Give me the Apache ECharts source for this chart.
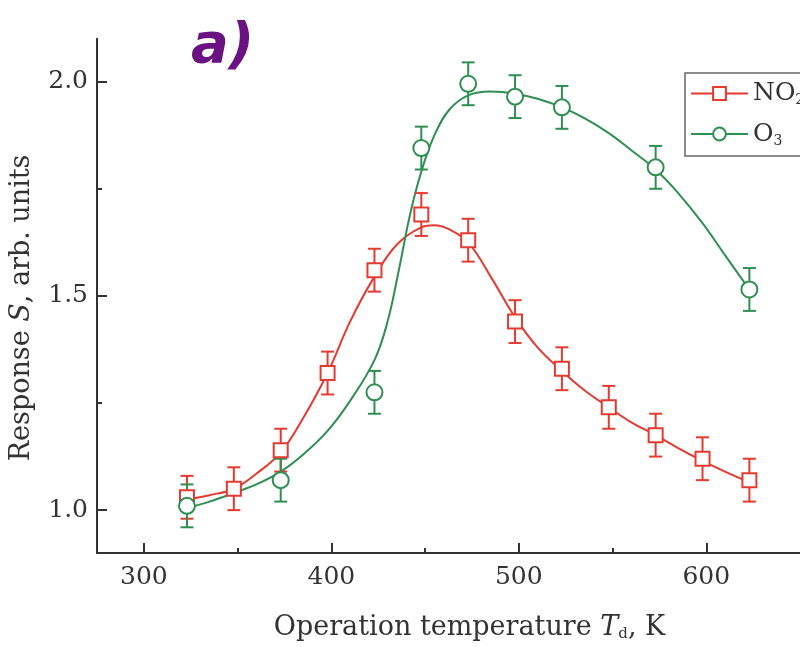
<!DOCTYPE html>
<html>
<head>
<meta charset="utf-8">
<script src="https://cdn.jsdelivr.net/npm/echarts@6/dist/echarts.min.js"></script>
<style>
html, body { margin: 0; padding: 0; background: #fff; }
#chart { width: 800px; height: 647px; }
</style>
</head>
<body>
<div id="chart"></div>
<script>
'use strict';
// measured points
const no2Temps = [323, 348, 373, 398, 423, 448, 473, 498, 523, 548, 573, 598, 623];
const no2Resp = [1.03, 1.05, 1.14, 1.32, 1.56, 1.69, 1.63, 1.44, 1.33, 1.24, 1.175, 1.12, 1.07];
const no2Err = [0.05, 0.05, 0.05, 0.05, 0.05, 0.05, 0.05, 0.05, 0.05, 0.05, 0.05, 0.05, 0.05];

const o3Temps = [323, 373, 423, 448, 473, 498, 523, 573, 623];
const o3Resp = [1.01, 1.07, 1.275, 1.845, 1.995, 1.965, 1.94, 1.80, 1.515];
const o3Err = [0.05, 0.05, 0.05, 0.05, 0.05, 0.05, 0.05, 0.05, 0.05];

// fitted curves
const no2FitTemps = [323, 335, 348, 360, 373, 385, 398, 410, 423, 435, 448, 455, 463, 473, 485, 498, 510, 523, 535, 548, 560, 573, 585, 598, 610, 623];
const no2Fit = [1.025, 1.035, 1.05, 1.085, 1.135, 1.215, 1.32, 1.44, 1.545, 1.62, 1.66, 1.665, 1.655, 1.625, 1.545, 1.45, 1.38, 1.325, 1.28, 1.24, 1.205, 1.175, 1.145, 1.115, 1.09, 1.065];
const o3FitTemps = [323, 335, 348, 360, 373, 385, 398, 410, 423, 430, 436, 442, 448, 455, 463, 473, 485, 498, 510, 523, 535, 548, 560, 573, 585, 598, 610, 623];
const o3Fit = [1.005, 1.02, 1.04, 1.06, 1.09, 1.13, 1.185, 1.255, 1.35, 1.44, 1.56, 1.69, 1.79, 1.875, 1.935, 1.968, 1.977, 1.972, 1.96, 1.94, 1.915, 1.88, 1.84, 1.795, 1.74, 1.67, 1.595, 1.515];

const xTickLabels = [300, 400, 500, 600];
const yTickLabels = [1.0, 1.5, 2.0];

const RED = '#e53a30';
const GREEN = '#2f8f52';
const FONT = 'DejaVu Serif';
const INK = '#333';

function pairs(xs, ys) {
    return xs.map((x, i) => [x, ys[i]]);
}
function bars(xs, ys, es) {
    return xs.map((x, i) => [x, ys[i] - es[i], ys[i] + es[i]]);
}
function errorBar(color) {
    return function (params, api) {
        const x = api.value(0);
        const lo = api.coord([x, api.value(1)]);
        const hi = api.coord([x, api.value(2)]);
        const w = 6.5;
        const st = { stroke: color, lineWidth: 2 };
        return {
            type: 'group',
            children: [
                { type: 'line', shape: { x1: lo[0], y1: lo[1], x2: hi[0], y2: hi[1] }, style: st },
                { type: 'line', shape: { x1: lo[0] - w, y1: lo[1], x2: lo[0] + w, y2: lo[1] }, style: st },
                { type: 'line', shape: { x1: hi[0] - w, y1: hi[1], x2: hi[0] + w, y2: hi[1] }, style: st },
            ],
        };
    };
}

const chart = echarts.init(document.getElementById('chart'));
const option = {
    animation: false,
    title: {
        text: 'a)',
        left: 186,
        top: 14,
        textStyle: { color: '#6b1283', fontSize: 56, fontWeight: 'bold', fontStyle: 'italic', fontFamily: 'DejaVu Sans' },
    },
    legend: {
        data: ['NO2', 'O3'],
        orient: 'vertical',
        left: 685,
        top: 73,
        padding: [8, 30, 8, 5],
        itemWidth: 57,
        itemHeight: 16,
        itemGap: 14,
        borderColor: '#666',
        borderWidth: 1.5,
        borderRadius: 0,
        formatter: (name) => (name === 'NO2' ? 'NO{s|2}' : 'O{s|3}'),
        textStyle: {
            fontFamily: FONT,
            fontSize: 25,
            color: INK,
            rich: {
                s: { fontFamily: FONT, fontSize: 14, color: INK, verticalAlign: 'bottom', padding: [14, 0, 0, 0] },
            },
        },
    },
    grid: { left: 97, right: 0, top: 38.8, bottom: 94 },
    xAxis: {
        type: 'value',
        min: 275,
        max: 650,
        splitNumber: 4,
        name: 'Operation temperature {i|T}{s|d}, K',
        nameLocation: 'middle',
        nameGap: 60,
        nameTextStyle: {
            fontFamily: FONT,
            fontSize: 27,
            color: INK,
            padding: [0, 0, 0, 42],
            rich: {
                i: { fontFamily: FONT, fontSize: 27, fontStyle: 'italic', color: INK },
                s: { fontFamily: FONT, fontSize: 15, color: INK, verticalAlign: 'bottom', padding: [14, 0, 0, 0] },
            },
        },
        axisLine: { lineStyle: { color: INK, width: 2 } },
        axisTick: { show: true, inside: true, length: 10, customValues: xTickLabels, lineStyle: { color: INK, width: 2 } },
        minorTick: { show: true, splitNumber: 2, length: 5, lineStyle: { color: INK, width: 2 } },
        axisLabel: { customValues: xTickLabels, margin: 12, fontFamily: FONT, fontSize: 25, color: INK },
        splitLine: { show: false },
    },
    yAxis: {
        type: 'value',
        min: 0.9,
        max: 2.1,
        splitNumber: 3,
        name: 'Response {i|S}, arb. units',
        nameLocation: 'middle',
        nameGap: 62,
        nameTextStyle: {
            fontFamily: FONT,
            fontSize: 27,
            color: INK,
            padding: [0, 24, 0, 0],
            rich: {
                i: { fontFamily: FONT, fontSize: 27, fontStyle: 'italic', color: INK },
            },
        },
        axisLine: { show: true, lineStyle: { color: INK, width: 2 } },
        axisTick: { show: true, inside: true, length: 10, customValues: yTickLabels, lineStyle: { color: INK, width: 2 } },
        minorTick: { show: true, splitNumber: 2, length: 5, lineStyle: { color: INK, width: 2 } },
        axisLabel: {
            customValues: yTickLabels,
            margin: 9,
            fontFamily: FONT,
            fontSize: 25,
            color: INK,
            formatter: (v) => v.toFixed(1),
        },
        splitLine: { show: false },
    },
    series: [
        {
            name: 'NO2',
            type: 'line',
            data: pairs(no2FitTemps, no2Fit),
            smooth: 0.4,
            showSymbol: false,
            symbol: 'emptyRect',
            lineStyle: { color: RED, width: 2 },
            itemStyle: { color: RED },
            z: 2,
        },
        {
            name: 'O3',
            type: 'line',
            data: pairs(o3FitTemps, o3Fit),
            smooth: 0.4,
            showSymbol: false,
            symbol: 'emptyCircle',
            lineStyle: { color: GREEN, width: 2 },
            itemStyle: { color: GREEN },
            z: 2,
        },
        {
            type: 'custom',
            renderItem: errorBar(RED),
            data: bars(no2Temps, no2Resp, no2Err),
            encode: { x: 0, y: [1, 2] },
            z: 3,
        },
        {
            type: 'custom',
            renderItem: errorBar(GREEN),
            data: bars(o3Temps, o3Resp, o3Err),
            encode: { x: 0, y: [1, 2] },
            z: 3,
        },
        {
            type: 'scatter',
            data: pairs(no2Temps, no2Resp),
            symbol: 'rect',
            symbolSize: 14,
            itemStyle: { color: '#fff', borderColor: RED, borderWidth: 2, opacity: 1 },
            z: 4,
        },
        {
            type: 'scatter',
            data: pairs(o3Temps, o3Resp),
            symbol: 'circle',
            symbolSize: 16,
            itemStyle: { color: '#fff', borderColor: GREEN, borderWidth: 2, opacity: 1 },
            z: 4,
        },
    ],
};
chart.setOption(option);
window.addEventListener('resize', () => chart.resize());
</script>
</body>
</html>
